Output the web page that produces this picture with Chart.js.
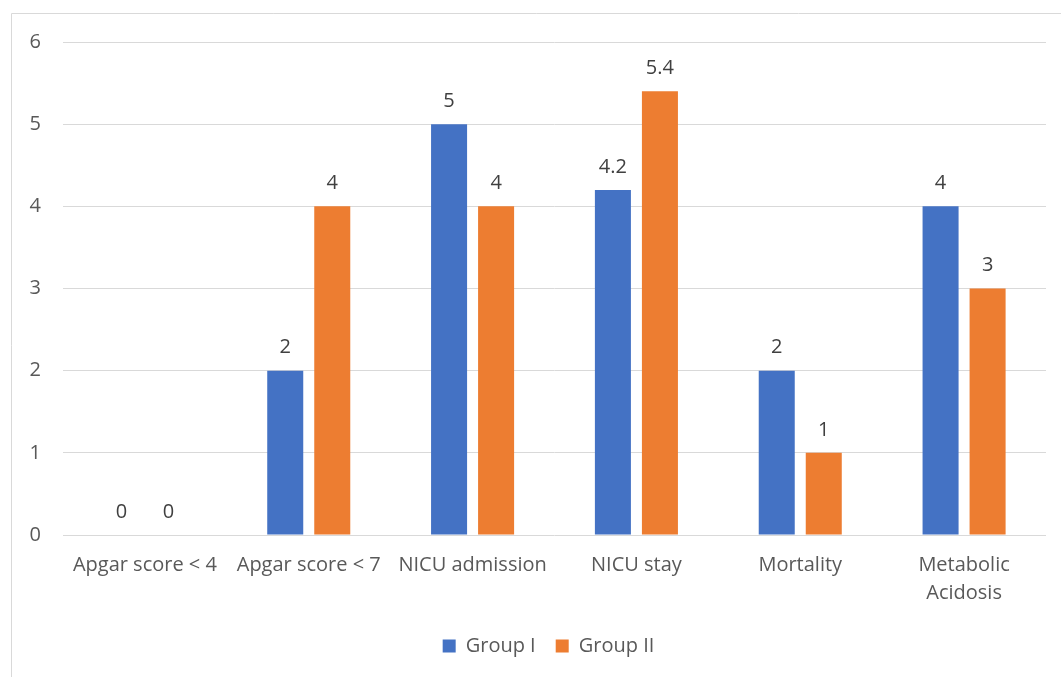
<!DOCTYPE html>
<html>
<head>
<meta charset="utf-8">
<script src="https://cdn.jsdelivr.net/npm/chart.js@4/dist/chart.umd.min.js"></script>
<style>
  html, body { margin: 0; padding: 0; background: #fff; }
  #wrap { width: 1061px; height: 677px; position: relative; }
</style>
</head>
<body>
<div id="wrap"><canvas id="c" width="1061" height="677"></canvas></div>
<script>
const categories = ["Apgar score < 4", "Apgar score < 7", "NICU admission", "NICU stay", "Mortality", ["Metabolic", "Acidosis"]];
const groupI = [0, 2, 5, 4.2, 2, 4];
const groupII = [0, 4, 4, 5.4, 1, 3];
const yTicks = [0, 1, 2, 3, 4, 5, 6];

const FONT = "'Open Sans', 'Noto Sans', sans-serif";
const FS = 20;
const TEXT = "#595959";
const GRID = "#d9d9d9";

// Value labels above each bar
const valueLabels = {
  id: "valueLabels",
  afterDatasetsDraw(chart) {
    const ctx = chart.ctx;
    ctx.save();
    ctx.font = FS + "px " + FONT;
    ctx.fillStyle = "#404040";
    ctx.textAlign = "center";
    ctx.textBaseline = "middle";
    chart.data.datasets.forEach((ds, i) => {
      const meta = chart.getDatasetMeta(i);
      meta.data.forEach((bar, j) => {
        ctx.fillText(String(ds.data[j]), bar.x, bar.y - 23);
      });
    });
    ctx.restore();
  }
};

// Frame lines along the top and left edges of the chart
const frame = {
  id: "frame",
  beforeDraw(chart) {
    const ctx = chart.ctx;
    ctx.save();
    ctx.strokeStyle = GRID;
    ctx.lineWidth = 1;
    ctx.beginPath();
    ctx.moveTo(11.5, chart.height);
    ctx.lineTo(11.5, 13.5);
    ctx.lineTo(chart.width, 13.5);
    ctx.stroke();
    ctx.restore();
  }
};

// Center the legend under the plot area rather than the whole canvas
const legendShift = {
  id: "legendShift",
  afterLayout(chart) {
    const lg = chart.legend;
    if (!lg) return;
    const dx = (chart.chartArea.left + chart.chartArea.right) / 2 - (lg.left + lg.right) / 2 - 6;
    lg.left += dx;
    lg.right += dx;
  }
};

new Chart(document.getElementById("c"), {
  type: "bar",
  data: {
    labels: categories,
    datasets: [
      { label: "Group I", data: groupI, backgroundColor: "#4472C4", categoryPercentage: 0.574, barPercentage: 0.766 },
      { label: "Group II", data: groupII, backgroundColor: "#ED7D31", categoryPercentage: 0.574, barPercentage: 0.766 }
    ]
  },
  options: {
    responsive: false,
    animation: false,
    layout: { padding: { top: 42, right: 15, left: 0, bottom: 11 } },
    plugins: {
      legend: {
        position: "bottom",
        labels: {
          font: { family: FONT, size: FS },
          color: TEXT,
          boxWidth: 13,
          boxHeight: 13,
          padding: 20
        }
      },
      tooltip: { enabled: false }
    },
    scales: {
      x: {
        grid: { display: false, drawTicks: false },
        border: { display: false },
        ticks: { font: { family: FONT, size: FS, lineHeight: 1.4 }, color: TEXT, padding: 16, maxRotation: 0, autoSkip: false },
        afterFit(scale) { scale.height = 81; }
      },
      y: {
        min: 0,
        max: 6,
        afterBuildTicks(scale) { scale.ticks = yTicks.map(v => ({ value: v })); },
        grid: { color: GRID, lineWidth: 1, drawTicks: false },
        border: { display: false },
        ticks: { font: { family: FONT, size: FS }, color: TEXT, padding: 22 },
        afterFit(scale) { scale.width = 63; }
      }
    }
  },
  plugins: [frame, legendShift, valueLabels]
});
</script>
</body>
</html>
